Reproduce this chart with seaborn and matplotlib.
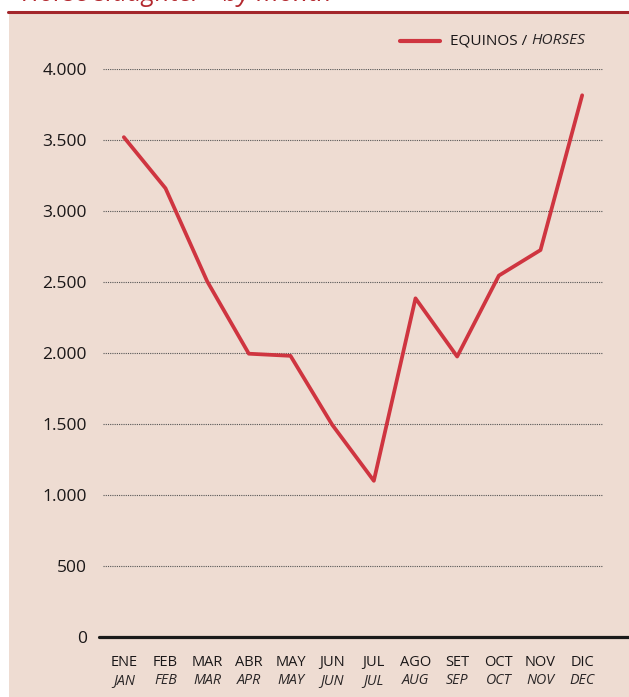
import matplotlib
matplotlib.use("Agg")
import matplotlib.pyplot as plt
import matplotlib.transforms as mtransforms
from matplotlib.lines import Line2D
from matplotlib.patches import Rectangle
import pandas as pd
import seaborn as sns

# data
months_es = ["ENE", "FEB", "MAR", "ABR", "MAY", "JUN", "JUL", "AGO", "SET", "OCT", "NOV", "DIC"]
months_en = ["JAN", "FEB", "MAR", "APR", "MAY", "JUN", "JUL", "AUG", "SEP", "OCT", "NOV", "DEC"]
horses = [3520, 3160, 2505, 1995, 1980, 1495, 1100, 2385, 1975, 2545, 2725, 3815]
y_ticks = [0, 500, 1000, 1500, 2000, 2500, 3000, 3500, 4000]

df = pd.DataFrame({"pos": range(len(months_es)), "horses": horses})

sns.set_theme(style="white")
plt.rcParams["font.family"] = ["Open Sans", "DejaVu Sans"]

panel = "#EEDCD2"
red = "#CF3540"
text_col = "#1A1718"

fig = plt.figure(figsize=(6.29, 6.97), dpi=100)
fig.patch.set_facecolor("white")

# panel background and top rule
fig.add_artist(Rectangle((9 / 629, 0), 1, 1 - 14 / 697, transform=fig.transFigure,
                         facecolor=panel, edgecolor="none", zorder=0))
fig.add_artist(Line2D([8 / 629, 1], [1 - 12 / 697] * 2, transform=fig.transFigure,
                      color="#A3262B", linewidth=2.2))
fig.text(22 / 629, 1 - 1 / 697, "Horse slaughter - by month", color="#B3282E",
         fontsize=18.5, fontstyle="italic", va="baseline", ha="left")

ax = fig.add_axes([103 / 629, 1 - 637 / 697, 500 / 629, 568 / 697])
ax.set_facecolor("none")

sns.lineplot(data=df, x="pos", y="horses", ax=ax, color=red, linewidth=2.7,
             legend=False)

ax.set_xlim(-0.5, 11.5)
ax.set_ylim(0, 4000)
ax.set_yticks(y_ticks)
ax.set_yticklabels([f"{v:,}".replace(",", ".") for v in y_ticks], fontsize=12.5, color=text_col)
for v in y_ticks[1:]:
    ax.axhline(v, color="#555555", linewidth=0.8, linestyle=(0, (1, 1)), zorder=1)

# heavy baseline running to the right edge
ax.plot([-0.6, 12.15], [0, 0], color="#1a1a1a", linewidth=2.3, clip_on=False, zorder=3)

ax.set_xticks(range(len(months_es)))
ax.set_xticklabels(months_es, fontsize=10.5, color=text_col)
ax.tick_params(axis="x", length=0, pad=13)
ax.tick_params(axis="y", length=0, pad=11.5)
trans = mtransforms.blended_transform_factory(ax.transData, ax.transAxes)
for i, lab in enumerate(months_en):
    ax.text(i, -0.076, lab, transform=trans, ha="center", va="center",
            fontsize=10.3, fontstyle="italic", color="#2a2627")

for s in ax.spines.values():
    s.set_visible(False)
ax.set_xlabel("")
ax.set_ylabel("")

# legend drawn as a short line plus mixed-style text
leg_y = 1 - 41 / 697
fig.add_artist(Line2D([400 / 629, 440 / 629], [leg_y, leg_y], transform=fig.transFigure,
                      color=red, linewidth=3))
t = fig.text(450 / 629, leg_y, "EQUINOS / ", fontsize=11.1, color=text_col, va="center",
             ha="left")
fig.canvas.draw()
bb = t.get_window_extent()
fig.text(bb.x1 / fig.bbox.width, leg_y, "HORSES", fontsize=11.1, color="#2a2627",
         fontstyle="italic", va="center", ha="left")

fig.savefig("out.png", dpi=100, facecolor=fig.get_facecolor())
